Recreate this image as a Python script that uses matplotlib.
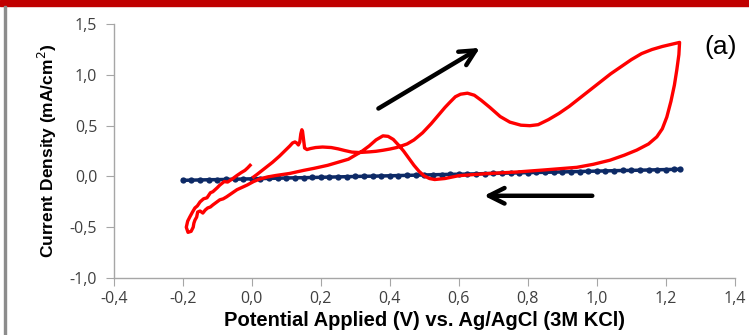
import numpy as np
import matplotlib.pyplot as plt
from matplotlib.patches import Rectangle
from matplotlib.ticker import FuncFormatter

# blank electrode (dark blue dots)
blank_v = [-0.200, -0.175, -0.150, -0.125, -0.100, -0.075, -0.050, -0.025, 0.000, 0.025,
           0.050, 0.075, 0.100, 0.125, 0.150, 0.175, 0.200, 0.225, 0.250, 0.275,
           0.300, 0.325, 0.350, 0.375, 0.400, 0.425, 0.450, 0.475, 0.500, 0.525,
           0.550, 0.575, 0.600, 0.625, 0.650, 0.675, 0.700, 0.725, 0.750, 0.775,
           0.800, 0.825, 0.850, 0.875, 0.900, 0.925, 0.950, 0.975, 1.000, 1.025,
           1.050, 1.075, 1.100, 1.125, 1.150, 1.175, 1.200, 1.225, 1.240]
blank_j = [-0.038, -0.036, -0.034, -0.032, -0.031, -0.029, -0.027, -0.025, -0.023, -0.021,
           -0.019, -0.017, -0.015, -0.013, -0.012, -0.010, -0.008, -0.006, -0.004, -0.002,
           0.000, 0.002, 0.003, 0.005, 0.007, 0.009, 0.011, 0.013, 0.015, 0.017,
           0.019, 0.021, 0.022, 0.024, 0.026, 0.028, 0.030, 0.032, 0.034, 0.036,
           0.038, 0.040, 0.041, 0.043, 0.045, 0.047, 0.049, 0.051, 0.053, 0.055,
           0.057, 0.059, 0.060, 0.062, 0.064, 0.066, 0.068, 0.070, 0.071]

# modified electrode CV (red)
cv_v = [-0.005, -0.012, -0.020, -0.030, -0.043, -0.055, -0.070, -0.080, -0.093, -0.100,
        -0.113, -0.120, -0.130, -0.140, -0.150, -0.158, -0.165, -0.172, -0.180, -0.186,
        -0.190, -0.185, -0.176, -0.170, -0.168, -0.165, -0.160, -0.157, -0.150, -0.142,
        -0.135, -0.128, -0.120, -0.113, -0.105, -0.093, -0.083, -0.073, -0.060, -0.043,
        -0.030, -0.014, 0.005, 0.023, 0.045, 0.070, 0.110, 0.150, 0.180, 0.220,
        0.250, 0.280, 0.300, 0.320, 0.340, 0.360, 0.380, 0.395, 0.410, 0.425,
        0.440, 0.455, 0.470, 0.485, 0.500, 0.515, 0.530, 0.560, 0.600, 0.680,
        0.768, 0.850, 0.942, 0.990, 1.038, 1.080, 1.116, 1.150, 1.174, 1.190,
        1.203, 1.215, 1.225, 1.232, 1.238, 1.240, 1.215, 1.190, 1.160, 1.130,
        1.100, 1.070, 1.040, 1.010, 0.980, 0.950, 0.920, 0.890, 0.860, 0.830,
        0.806, 0.780, 0.748, 0.720, 0.690, 0.665, 0.645, 0.625, 0.605, 0.590,
        0.574, 0.560, 0.545, 0.520, 0.495, 0.470, 0.450, 0.420, 0.400, 0.380,
        0.360, 0.340, 0.310, 0.290, 0.270, 0.250, 0.230, 0.205, 0.185, 0.170,
        0.160, 0.153, 0.150, 0.147, 0.145, 0.142, 0.139, 0.135, 0.130, 0.125,
        0.118, 0.110, 0.095, 0.080, 0.060, 0.045, 0.030, 0.015, 0.005]
cv_j = [0.110, 0.085, 0.060, 0.040, 0.010, -0.020, -0.055, -0.050, -0.085, -0.110,
        -0.150, -0.160, -0.210, -0.220, -0.250, -0.290, -0.310, -0.350, -0.400, -0.440,
        -0.500, -0.550, -0.540, -0.500, -0.460, -0.430, -0.400, -0.350, -0.340, -0.360,
        -0.330, -0.310, -0.300, -0.280, -0.260, -0.230, -0.220, -0.200, -0.170, -0.130,
        -0.110, -0.085, -0.050, -0.025, -0.005, 0.010, 0.030, 0.060, 0.080, 0.110,
        0.140, 0.170, 0.210, 0.250, 0.300, 0.360, 0.400, 0.395, 0.365, 0.310,
        0.250, 0.180, 0.110, 0.050, 0.005, -0.020, -0.030, -0.020, 0.008, 0.028,
        0.044, 0.065, 0.090, 0.120, 0.160, 0.210, 0.260, 0.320, 0.390, 0.470,
        0.585, 0.740, 0.900, 1.050, 1.200, 1.320, 1.300, 1.280, 1.250, 1.210,
        1.150, 1.080, 1.010, 0.930, 0.850, 0.770, 0.690, 0.620, 0.560, 0.510,
        0.500, 0.505, 0.535, 0.590, 0.680, 0.750, 0.800, 0.820, 0.810, 0.785,
        0.730, 0.680, 0.620, 0.520, 0.430, 0.360, 0.320, 0.285, 0.270, 0.258,
        0.248, 0.242, 0.236, 0.240, 0.255, 0.272, 0.285, 0.290, 0.285, 0.275,
        0.265, 0.280, 0.360, 0.445, 0.460, 0.420, 0.340, 0.310, 0.330, 0.340,
        0.330, 0.300, 0.250, 0.200, 0.140, 0.100, 0.060, 0.020, -0.005]

xticks = [-0.4, -0.2, 0.0, 0.2, 0.4, 0.6, 0.8, 1.0, 1.2, 1.4]
yticks = [-1.0, -0.5, 0.0, 0.5, 1.0, 1.5]

plt.rcParams['font.family'] = ['Liberation Sans', 'DejaVu Sans']

fig = plt.figure(figsize=(7.49, 3.35), dpi=100)
# red header bar and grey frame line
fig.patches.append(Rectangle((0, 0.982), 1, 0.018, transform=fig.transFigure,
                             color='#C00000', zorder=0))
fig.patches.append(Rectangle((0.005, 0), 0.003, 0.982, transform=fig.transFigure,
                             color='#8c8c8c', zorder=0))

ax = fig.add_axes([0.152, 0.170, 0.829, 0.758])

ax.plot(blank_v, blank_j, color='#0d2a66', lw=2.5, marker='o', ms=4.5,
        markeredgewidth=0, zorder=2)
ax.plot(cv_v, cv_j, color='#ff0000', lw=2.4, zorder=3, solid_joinstyle='round')

ax.set_xlim(-0.4, 1.4)
ax.set_ylim(-1.0, 1.5)
ax.set_xticks(xticks)
ax.set_yticks(yticks)

comma = FuncFormatter(lambda v, p: ('%.1f' % v).replace('.', ','))
ax.xaxis.set_major_formatter(comma)
ax.yaxis.set_major_formatter(comma)

for s in ['top', 'right']:
    ax.spines[s].set_visible(False)
for s in ['left', 'bottom']:
    ax.spines[s].set_color('#a6a6a6')
    ax.spines[s].set_linewidth(1.0)
ax.tick_params(colors='#a6a6a6', labelcolor='#404040', labelsize=11.5,
               length=6, direction='out')
ax.tick_params(axis='y', pad=6)
for lab in ax.get_xticklabels() + ax.get_yticklabels():
    lab.set_family(['Open Sans', 'DejaVu Sans'])

ax.set_xlabel('Potential Applied (V) vs. Ag/AgCl (3M KCl)', fontsize=14.5,
              fontweight='bold', labelpad=3)
ax.set_ylabel('Current Density (mA/cm$^2$)', fontsize=12.5, fontweight='bold',
              labelpad=8)

# sweep direction arrows
ax.annotate('', xy=(0.668, 1.28), xytext=(0.36, 0.655),
            arrowprops=dict(arrowstyle='->', lw=3.2, color='black',
                            mutation_scale=28))
ax.annotate('', xy=(0.665, -0.19), xytext=(0.995, -0.19),
            arrowprops=dict(arrowstyle='->', lw=3.2, color='black',
                            mutation_scale=28))

ax.text(1.36, 1.27, '(a)', fontsize=19, ha='center', va='center')

fig.savefig('out.png', dpi=100)
